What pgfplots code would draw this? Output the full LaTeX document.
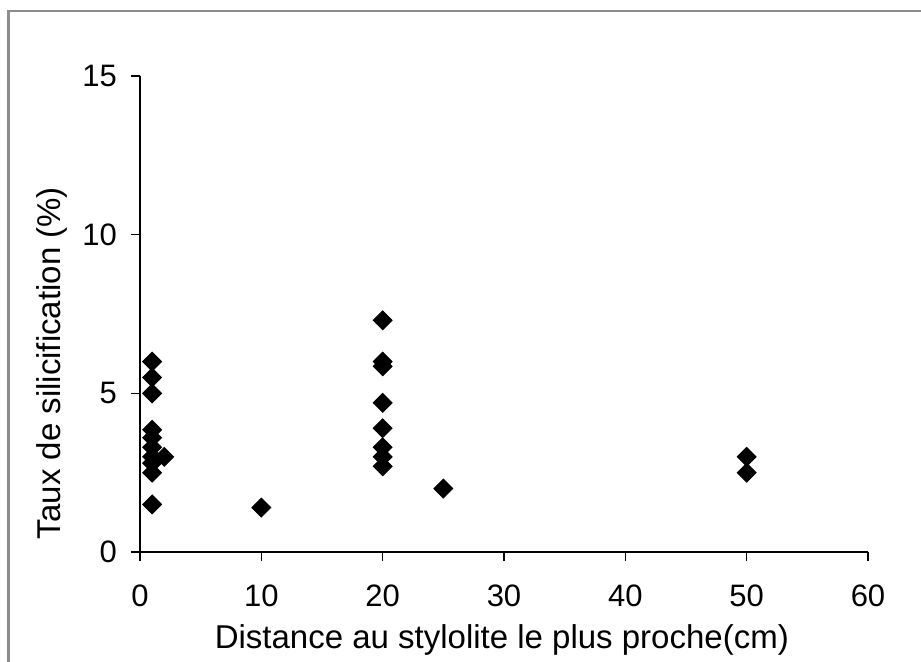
\documentclass[border=0pt]{standalone}
\usepackage{pgfplots}
\pgfplotsset{compat=1.18}
\usepackage{fontspec}
\setmainfont{Liberation Sans}
\begin{document}
\begin{tikzpicture}
\path[use as bounding box] (-70pt,-54.5pt) rectangle (390.5pt,276pt);
\draw[line width=1.3pt, color=black!45] (-65.75pt,-60pt) -- (-65.75pt,270.5pt) -- (400pt,270.5pt);
\begin{axis}[
  at={(0pt,0pt)}, anchor=origin,
  scale only axis, width=364pt, height=238pt,
  xmin=0, xmax=60, ymin=0, ymax=15,
  xtick={0,10,...,60}, ytick={0,5,10,15},
  axis x line*=bottom, axis y line*=left,
  axis line style={line width=0.8pt, -},
  tick style={line width=0.8pt, black},
  tick align=outside, major tick length=4.5pt,
  /pgf/number format/assume math mode=true,
  ticklabel style={font=\fontsize{15.5}{18}\selectfont},
  xticklabel style={yshift=-8.5pt},
  yticklabel style={xshift=-3.5pt},
  xlabel={Distance au stylolite le plus proche(cm)},
  ylabel={Taux de silicification (\%)},
  every axis x label/.style={at={(axis description cs:0.497,-0.185)}, anchor=center, font=\fontsize{16.5}{19}\selectfont},
  every axis y label/.style={at={(axis description cs:-0.121,0.397)}, rotate=90, anchor=center, font=\fontsize{16.5}{19}\selectfont},
  clip=false,
]
\addplot[only marks, mark=square*, mark size=3.35pt, mark options={rotate=45, fill=black, draw=black}] coordinates {
(1,6.0) (1,5.5) (1,5.0) (1,3.85) (1,3.6) (1,3.3) (1,3.0) (1,2.8) (1,2.5) (1,1.5)
(2,3.0)
(10,1.4)
(20,7.3) (20,6.0) (20,5.85) (20,4.7) (20,3.9) (20,3.3) (20,3.0) (20,2.7)
(25,2.0)
(50,3.0) (50,2.5)
};
\end{axis}
\end{tikzpicture}
\end{document}
